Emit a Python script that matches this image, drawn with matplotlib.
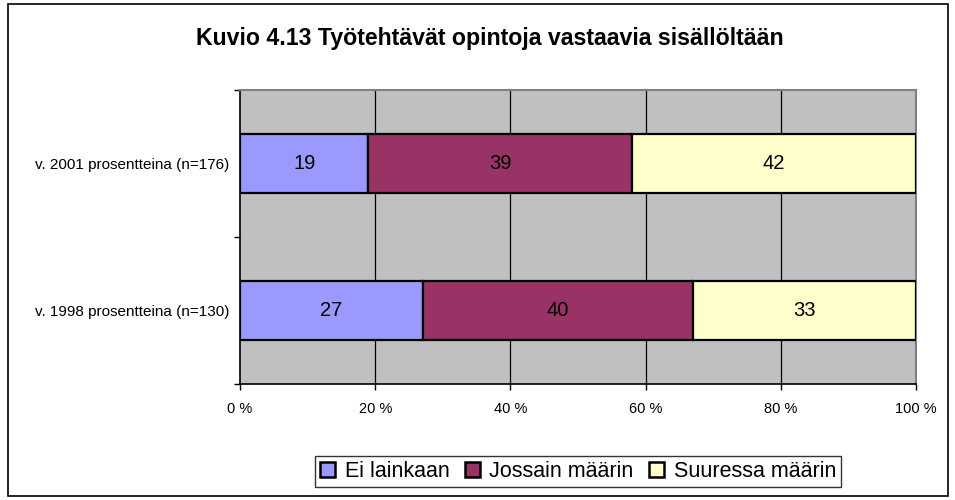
import matplotlib
matplotlib.use("Agg")
import matplotlib.pyplot as plt
from matplotlib.patches import Rectangle, Patch

plt.rcParams['font.family'] = ['Liberation Sans', 'DejaVu Sans']

categories = ["v. 1998 prosentteina (n=130)", "v. 2001 prosentteina (n=176)"]
series_names = ["Ei lainkaan", "Jossain määrin", "Suuressa määrin"]
ei_lainkaan = [27, 19]
jossain = [40, 39]
suuressa = [33, 42]
colors = ["#9999FF", "#993366", "#FFFFCC"]
xticks = [0, 20, 40, 60, 80, 100]
xtick_labels = ["0 %", "20 %", "40 %", "60 %", "80 %", "100 %"]
title = "Kuvio 4.13 Työtehtävät opintoja vastaavia sisällöltään"

W, H = 955, 500
fig = plt.figure(figsize=(W / 100, H / 100), dpi=100)
fig.patch.set_facecolor("white")

# outer border
fig.patches.append(Rectangle((8 / W, 4 / H), (948 - 8) / W, (496 - 4) / H,
                             transform=fig.transFigure, fill=False,
                             edgecolor="black", linewidth=1.2))

ax = fig.add_axes([240 / W, (H - 384) / H, 676 / W, 294 / H])
ax.set_facecolor("#C0C0C0")
ax.set_xlim(0, 100)
ax.set_ylim(0, 2)

ypos = [0.5, 1.5]
lefts = [0, 0]
for vals, col, name in zip([ei_lainkaan, jossain, suuressa], colors, series_names):
    bars = ax.barh(ypos, vals, left=lefts, height=0.4, color=col,
                   edgecolor="black", linewidth=1.6, zorder=3, label=name)
    for b, v in zip(bars, vals):
        ax.text(b.get_x() + b.get_width() / 2, b.get_y() + b.get_height() / 2,
                str(v), ha="center", va="center", fontsize=14.5, zorder=4)
    lefts = [l + v for l, v in zip(lefts, vals)]

for x in xticks[1:-1]:
    ax.axvline(x, color="black", linewidth=0.9, zorder=1)

ax.set_xticks(xticks)
ax.set_xticklabels(xtick_labels, fontsize=10.5)
ax.tick_params(axis="x", direction="out", length=4, width=1, pad=9)
ax.set_yticks([0, 1, 2])
ax.set_yticklabels([])
ax.tick_params(axis="y", which="major", direction="out", length=4, width=1)
ax.set_yticks(ypos, minor=True)
ax.set_yticklabels(categories, minor=True, fontsize=11)
ax.tick_params(axis="y", which="minor", length=0, pad=8)

for s in ["left", "bottom"]:
    ax.spines[s].set_color("black")
    ax.spines[s].set_linewidth(1.2)
for s in ["top", "right"]:
    ax.spines[s].set_color("#808080")
    ax.spines[s].set_linewidth(1.5)

fig.text(490 / W, (H - 39) / H, title, ha="center", va="center",
         fontsize=16.7, fontweight="bold")

handles = [Patch(facecolor=c, edgecolor="black", linewidth=1.8, label=n)
           for c, n in zip(colors, series_names)]
leg = fig.legend(handles=handles, loc="center", ncol=3,
                 bbox_to_anchor=(578 / W, (H - 471.5) / H),
                 fontsize=15.5, frameon=True, fancybox=False,
                 handlelength=0.7, handleheight=0.7, handletextpad=0.45,
                 columnspacing=0.7, borderpad=0.25, borderaxespad=0)
leg.get_frame().set_edgecolor("black")
leg.get_frame().set_linewidth(1.0)

fig.savefig("out.png", dpi=100, facecolor="white")
